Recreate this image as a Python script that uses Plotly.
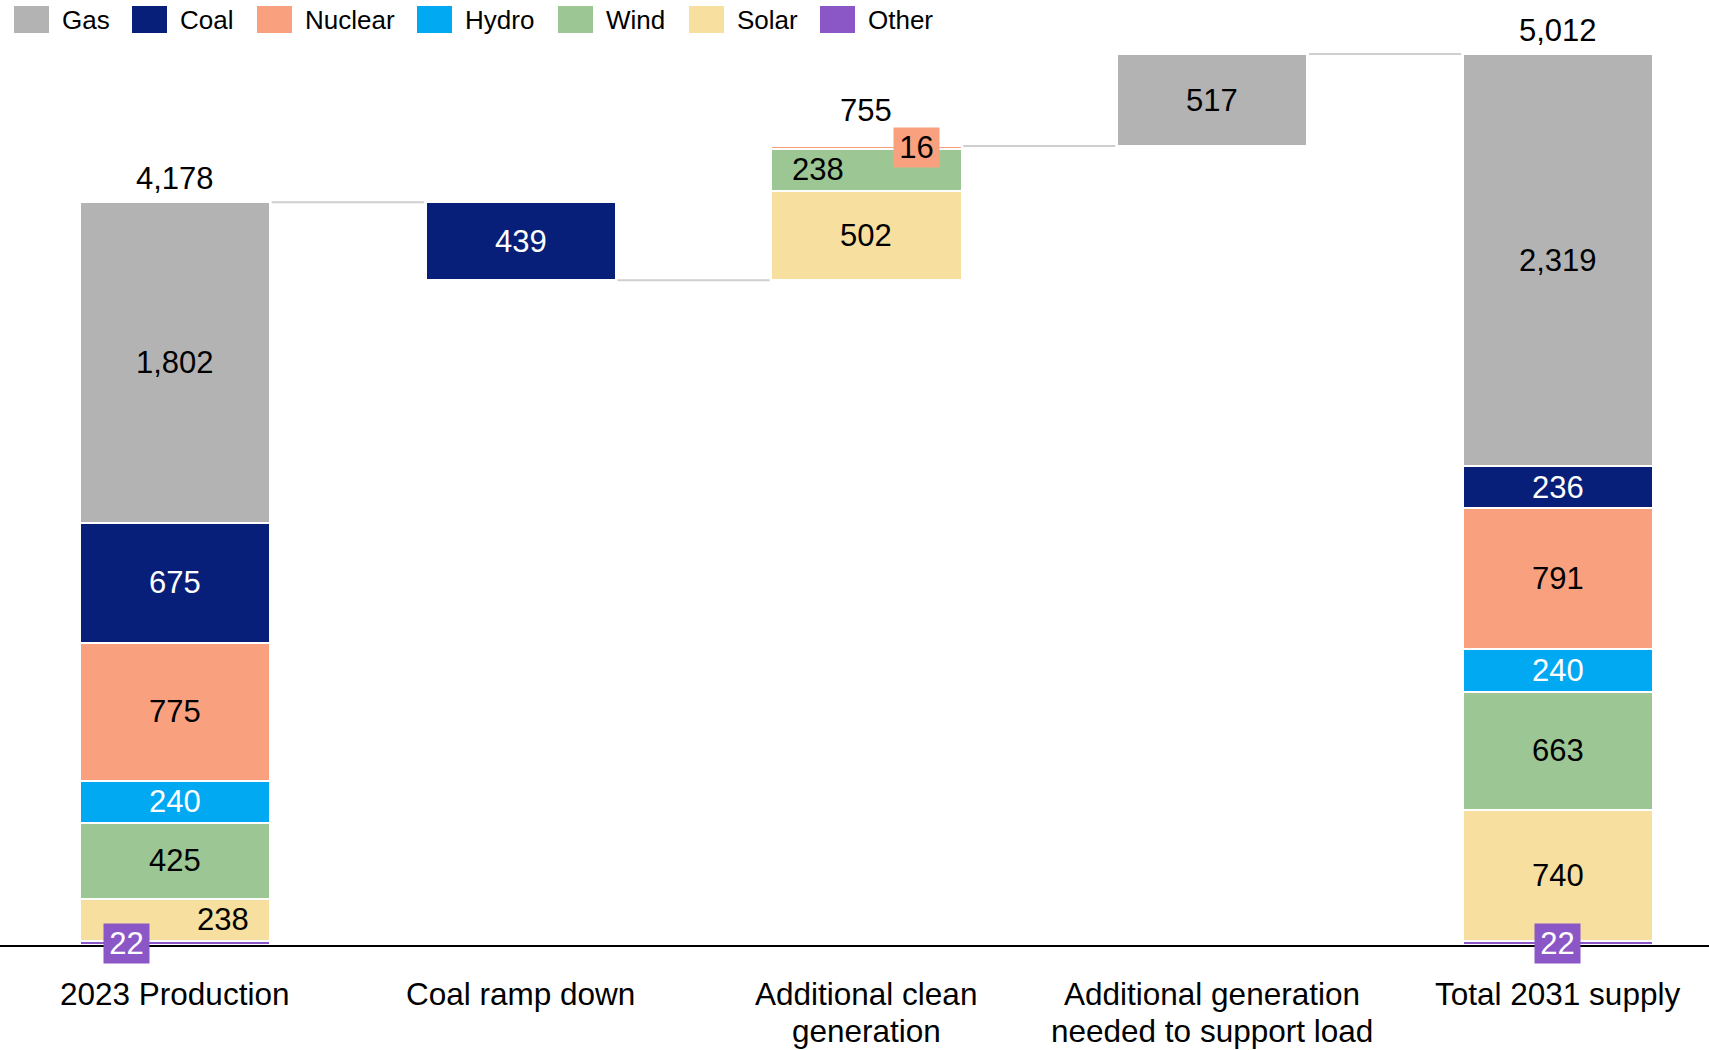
import plotly.graph_objects as go

# Generation by source (TWh), stacked bottom to top
categories = [
    "2023 Production",
    "Coal ramp down",
    "Additional clean<br>generation",
    "Additional generation<br>needed to support load",
    "Total 2031 supply",
]
other = [22, 0, 0, 0, 22]
solar = [238, 0, 502, 0, 740]
wind = [425, 0, 238, 0, 663]
hydro = [240, 0, 0, 0, 240]
nuclear = [775, 0, 16, 0, 791]
coal = [675, 439, 0, 0, 236]
gas = [1802, 0, 0, 517, 2319]

start_total = 4178
coal_decline = 439
clean_added = 755
load_added = 517
end_total = 5012

series = [
    ("Other", other, "#8b57c6", "white"),
    ("Solar", solar, "#f6df9f", "black"),
    ("Wind", wind, "#9cc794", "black"),
    ("Hydro", hydro, "#00a9f1", "white"),
    ("Nuclear", nuclear, "#f9a17f", "black"),
    ("Coal", coal, "#081f7a", "white"),
    ("Gas", gas, "#b3b3b3", "black"),
]
legend_order = ["Gas", "Coal", "Nuclear", "Hydro", "Wind", "Solar", "Other"]

# floating base of each column (waterfall)
after_coal = start_total - coal_decline
after_clean = after_coal + clean_added
base = [0, after_coal, after_coal, after_clean, 0]
levels = [start_total, after_coal, after_clean, after_clean + load_added]

FONT = "Liberation Sans, Arial, sans-serif"
LABEL_SIZE = 31
BAR_W = 0.55
xs = list(range(len(categories)))

BOTTOM = 105
PLOT_H = 1050 - BOTTOM
W = 1709

fig = go.Figure()
annotations = []
running = list(base)
for name, vals, color, tcolor in series:
    ys, bs = [], []
    for i, v in enumerate(vals):
        if v:
            ys.append(v)
            bs.append(running[i])
        else:
            ys.append(None)
            bs.append(None)
    fig.add_trace(go.Bar(
        x=xs, y=ys, base=bs, name=name, width=BAR_W,
        marker=dict(color=color, line=dict(color="white", width=2)),
        showlegend=False, hoverinfo="skip",
    ))
    for i, v in enumerate(vals):
        if not v:
            continue
        mid = running[i] + v / 2
        ann = dict(x=i, y=mid, xref="x", yref="y", text=f"{v:,}", showarrow=False,
                   font=dict(family=FONT, size=LABEL_SIZE, color=tcolor))
        if name == "Other":
            # tiny slice: boxed label sitting on the baseline
            ann.update(bgcolor=color, borderpad=1, width=43, height=37)
            if i == 0:
                ann["xshift"] = -48
        elif name == "Solar" and i == 0:
            ann["xshift"] = 48
        elif name == "Wind" and i == 2:
            ann["xshift"] = -48
        elif name == "Nuclear" and i == 2:
            ann.update(bgcolor=color, borderpad=1, width=43, height=37, xshift=50)
        annotations.append(ann)
        running[i] += v

# totals above columns
for i, t, extra in [(0, start_total, 0), (2, clean_added, 12), (4, end_total, 0)]:
    top = base[i] + t
    annotations.append(dict(x=i, y=top, xref="x", yref="y", text=f"{t:,}",
                            showarrow=False, yanchor="bottom", yshift=4 + extra,
                            font=dict(family=FONT, size=LABEL_SIZE, color="black")))

# category labels under the axis, one line per annotation for tight leading
for i, label in enumerate(categories):
    for k, line in enumerate(label.split("<br>")):
        py = 994 + 37 * k
        annotations.append(dict(x=i, y=(PLOT_H - py) / PLOT_H, xref="x", yref="paper",
                                text=line, showarrow=False, yanchor="middle",
                                font=dict(family=FONT, size=31.5, color="black")))

# connector lines between columns
shapes = []
for i, lv in enumerate(levels):
    shapes.append(dict(type="line", xref="x", yref="y",
                       x0=i + BAR_W / 2 + 0.005, x1=i + 1 - BAR_W / 2 - 0.005,
                       y0=lv, y1=lv, line=dict(color="#cfcfcf", width=2)))

# custom legend row
leg_sq_x = [14, 132, 257, 417, 558, 689, 820]
colors = {n: c for n, _, c, _ in series}
for name, px in zip(legend_order, leg_sq_x):
    shapes.append(dict(type="rect", xref="paper", yref="paper",
                       x0=px / W, x1=(px + 35) / W,
                       y0=1 - 33 / PLOT_H, y1=1 - 6 / PLOT_H,
                       fillcolor=colors[name], line=dict(width=0)))
    annotations.append(dict(x=(px + 46) / W, y=1 - 20 / PLOT_H, xref="paper", yref="paper",
                            text=name, showarrow=False, xanchor="left", yanchor="middle",
                            font=dict(family=FONT, size=26, color="black")))

fig.update_layout(
    width=1709, height=1050,
    margin=dict(l=0, r=0, t=0, b=BOTTOM),
    plot_bgcolor="white", paper_bgcolor="white",
    barmode="overlay", bargap=0,
    showlegend=False,
    annotations=annotations, shapes=shapes,
    font=dict(family=FONT, size=LABEL_SIZE, color="black"),
    xaxis=dict(range=[-0.506, 4.437], tickvals=xs, showticklabels=False,
               showline=True, linecolor="black", linewidth=2, showgrid=False,
               zeroline=False, ticks="", automargin=False),
    yaxis=dict(range=[0, 5315], visible=False, showgrid=False, zeroline=False,
               automargin=False),
)

fig.write_html("out.html")
